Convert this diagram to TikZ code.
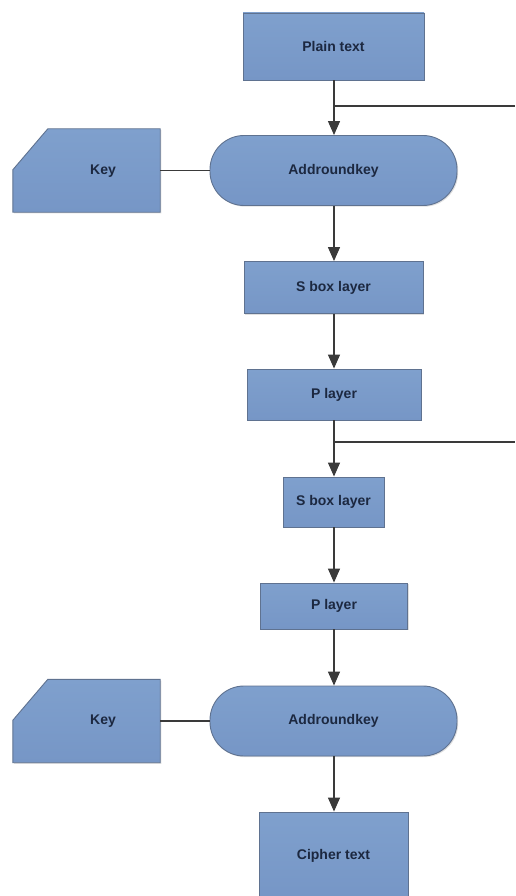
\documentclass[tikz,border=0pt]{standalone}
\usepackage{fontspec}
\setmainfont{Liberation Sans}
\usetikzlibrary{shadows,arrows.meta}
\definecolor{boxtop}{HTML}{7FA0CD}
\definecolor{boxbot}{HTML}{7696C6}
\definecolor{boxline}{HTML}{5F7290}
\definecolor{inktext}{HTML}{1C2840}
\definecolor{wire}{HTML}{3A3A3A}
\tikzset{
  skin/.style={draw=boxline, line width=0.9pt, top color=boxtop, bottom color=boxbot,
    drop shadow={opacity=0.25, shadow xshift=1.2pt, shadow yshift=-1.2pt}},
  blk/.style={skin, font=\bfseries\fontsize{14}{16}\selectfont, text=inktext, inner sep=0pt},
  procbox/.style={blk, rectangle},
  roundbox/.style={blk, rectangle, rounded corners=34pt, minimum width=247pt, minimum height=70pt},
  keyarea/.style={rectangle, minimum width=147pt, minimum height=83pt, inner sep=0pt},
  lbl/.style={font=\bfseries\fontsize{14}{16}\selectfont, text=inktext},
  flow/.style={draw=wire, line width=1.3pt, -{Triangle[length=14pt,width=12pt]}},
  link/.style={draw=wire, line width=1.3pt},
}
\begin{document}
\begin{tikzpicture}[x=1pt,y=-1pt]
\useasboundingbox (0,0) rectangle (515,896);
\clip (0,0) rectangle (515,896);

% main column of stages
\node[procbox, minimum width=181pt, minimum height=67pt] (plain) at (333.5,46.5) {Plain text};
\node[roundbox] (ark1) at (333.5,170.5) {Addroundkey};
\node[procbox, minimum width=179pt, minimum height=52pt] (sbox1) at (333.5,287.5) {S box layer};
\node[procbox, minimum width=174pt, minimum height=51pt] (perm1) at (334,394.5) {P layer};
\node[procbox, minimum width=101pt, minimum height=50pt] (sbox2) at (333.5,502) {S box layer};
\node[procbox, minimum width=147pt, minimum height=46pt] (perm2) at (334,606) {P layer};
\node[roundbox] (ark2) at (333.5,721) {Addroundkey};
\node[procbox, minimum width=149pt, minimum height=88pt] (cipher) at (333.5,856) {Cipher text};

% round keys: card shape with the top-left corner cut off
\node[keyarea] (key1) at (86.5,170.5) {};
\path[skin] ([xshift=35pt]key1.north west) -- (key1.north east) -- (key1.south east)
  -- (key1.south west) -- ([yshift=-41pt]key1.north west) -- cycle;
\node[lbl] (key1t) at (103,171) {Key};
\node[keyarea] (key2) at (86.5,721) {};
\path[skin] ([xshift=35pt]key2.north west) -- (key2.north east) -- (key2.south east)
  -- (key2.south west) -- ([yshift=-41pt]key2.north west) -- cycle;
\node[lbl] (key2t) at (103,721) {Key};

% branch points
\coordinate (b1) at (334,106);
\coordinate (e1) at (515,106);
\coordinate (b2) at (334,442);
\coordinate (e2) at (515,442);

% connectors
\draw[flow] (plain.south -| b1) -- (ark1.north -| b1);
\draw[flow] (ark1.south -| b1) -- (sbox1.north -| b1);
\draw[flow] (sbox1.south -| b1) -- (perm1.north -| b1);
\draw[flow] (perm1.south -| b1) -- (sbox2.north -| b1);
\draw[flow] (sbox2.south -| b1) -- (perm2.north -| b1);
\draw[flow] (perm2.south -| b1) -- (ark2.north -| b1);
\draw[flow] (ark2.south -| b1) -- (cipher.north -| b1);
\draw[link] (b1) -- (e1);
\draw[link] (b2) -- (e2);
\draw[link] (key1.east) -- (key1.east -| ark1.west);
\draw[link] (key2.east) -- (key2.east -| ark2.west);
\end{tikzpicture}
\end{document}
